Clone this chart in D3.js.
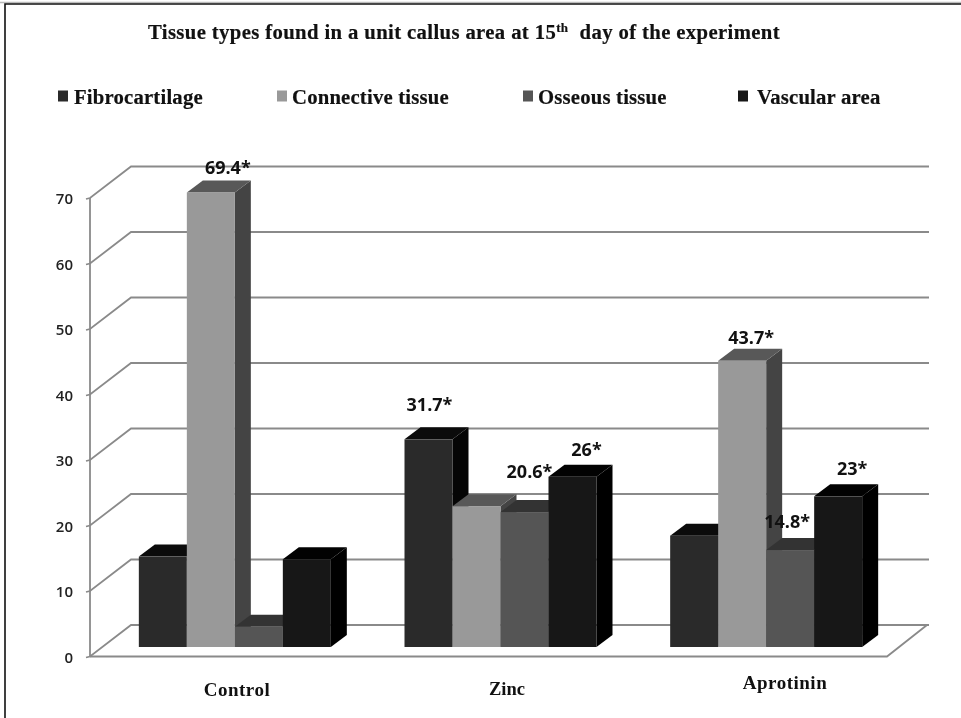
<!DOCTYPE html>
<html><head><meta charset="utf-8">
<script src="https://cdn.jsdelivr.net/npm/d3@7/dist/d3.min.js"></script>
<style>html,body{margin:0;padding:0;background:#fff}svg{display:block;filter:blur(0.45px)}</style>
</head><body><svg id="c" width="961" height="718"></svg>
<script>
const categories = ["Control","Zinc","Aprotinin"];
const seriesNames = ["Fibrocartilage","Connective tissue","Osseous tissue","Vascular area"];
const fibrocartilage = [13.8,31.7,17];
const connective = [69.4,21.5,43.7];
const osseous = [3.1,20.6,14.8];
const vascular = [13.4,26,23];
const seriesValues = [fibrocartilage,connective,osseous,vascular];
const labelTexts = [[null,"31.7*",null],["69.4*",null,"43.7*"],[null,"20.6*","14.8*"],[null,"26*","23*"]];
const labelNudges = [[null,[1,-34],null],[[17,-24],null,[9,-23]],[null,[5,-40],[-3,-28]],[null,[14,-27],[14,-27]]];
const yTicks = [0,10,20,30,40,50,60,70];
const fronts = ["#2a2a2a","#999999","#555555","#171717"];
const tops = ["#0b0b0b","#585858","#333333","#020202"];
const sides = ["#050505","#444444","#3a3a3a","#000000"];
const legendX = [58,277,523,738];
const legendTextX = [74,292,538,757];
const categoryX = [237,507,785];
const categoryY = [696,695,689];

const svg = d3.select("#c");
const serif = "'Liberation Serif',serif", sans = "'Open Sans',sans-serif";
const gridC = "#8a8a8a";
const wall = {dx:41,dy:-31.5}, depth = {dx:16,dy:-12}, lift = 9.5, inset = 12;
const x = d3.scaleBand().domain(categories).range([90,887]);
const y = d3.scaleLinear().domain([0,70]).range([656.5,198]);
const inner = d3.scaleBand().domain(d3.range(4)).range([0,192]);
const groupPad = (x.bandwidth()-192)/2;

// frame
svg.append("path").attr("d","M0,2.5H961").attr("stroke","#bbb").attr("stroke-width",1.5);
svg.append("path").attr("d","M5,718V4H961").attr("fill","none").attr("stroke","#111").attr("stroke-width",1.6);

// title
const t = svg.append("text").attr("x",148).attr("y",39).attr("font-family",serif).attr("font-weight",700).attr("font-size",20.7).attr("letter-spacing",0.38).attr("fill","#111").attr("stroke","#111").attr("stroke-width",0.2);
t.append("tspan").text("Tissue types found in a unit callus area at 15");
t.append("tspan").text("th").attr("font-size",13).attr("dy",-7);
t.append("tspan").text("  day of the experiment").attr("dy",7).style("white-space","pre");

// legend
seriesNames.forEach((n,i)=>{
  svg.append("rect").attr("x",legendX[i]).attr("y",90.5).attr("width",10).attr("height",11).attr("fill",fronts[i]);
  svg.append("text").attr("x",legendTextX[i]).attr("y",104).attr("font-family",serif).attr("font-weight",700).attr("font-size",20.7).attr("letter-spacing",0.2).attr("fill","#111").attr("stroke","#111").attr("stroke-width",0.2).text(n);
});

// grid and walls
const g = svg.append("g").attr("fill","none").attr("stroke",gridC).attr("stroke-width",1.8);
yTicks.forEach(v=>{
  const yy=y(v);
  g.append("path").attr("d",`M${x.range()[0]-4},${yy+1}L${x.range()[0]},${yy}L${x.range()[0]+wall.dx},${yy+wall.dy}H929`);
});
g.append("path").attr("d",`M90,${y(0)}V${y(70)}`);
g.append("path").attr("d",`M90,${y(0)}H${x.range()[1]}L927,${y(0)+wall.dy}`);

// axis labels
yTicks.forEach(v=>{
  svg.append("text").attr("x",73).attr("y",y(v)+6).attr("text-anchor","end").attr("font-family",sans).attr("font-weight",600).attr("font-size",15).attr("fill","#222").text(v);
});

// bars
const baseY = v => y(v)-lift;
const marks = svg.append("g");
categories.forEach((c,ci)=>{
  seriesValues.forEach((vals,si)=>{
    const v=vals[ci];
    const x0=x(c)+groupPad+inset+inner(si), w=inner.bandwidth(), yt=baseY(v), yb=baseY(0);
    const d=depth;
    marks.append("path").attr("fill",sides[si]).attr("d",`M${x0+w},${yt}L${x0+w+d.dx},${yt+d.dy}V${yb+d.dy}L${x0+w},${yb}Z`);
    marks.append("path").attr("fill",tops[si]).attr("d",`M${x0},${yt}L${x0+d.dx},${yt+d.dy}H${x0+w+d.dx}L${x0+w},${yt}Z`);
    marks.append("rect").attr("x",x0).attr("y",yt).attr("width",w).attr("height",yb-yt).attr("fill",fronts[si]);
  });
});
// value labels
categories.forEach((c,ci)=>{
  seriesValues.forEach((vals,si)=>{
    const s=labelTexts[si][ci]; if(!s) return;
    const n=labelNudges[si][ci];
    const x0=x(c)+groupPad+inset+inner(si)+inner.bandwidth()/2;
    svg.append("text").attr("x",x0+n[0]).attr("y",baseY(vals[ci])+n[1]+6).attr("text-anchor","middle")
      .attr("font-family",sans).attr("font-weight",700).attr("font-size",18).attr("fill","#111").text(s);
  });
});
// categories
categories.forEach((c,i)=>{
  svg.append("text").attr("x",categoryX[i]).attr("y",categoryY[i]).attr("text-anchor","middle")
    .attr("font-family",serif).attr("font-weight",700).attr("font-size",i==1?18.5:19).attr("letter-spacing",i==1?0:0.5).attr("fill","#111").text(c);
});
</script></body></html>
